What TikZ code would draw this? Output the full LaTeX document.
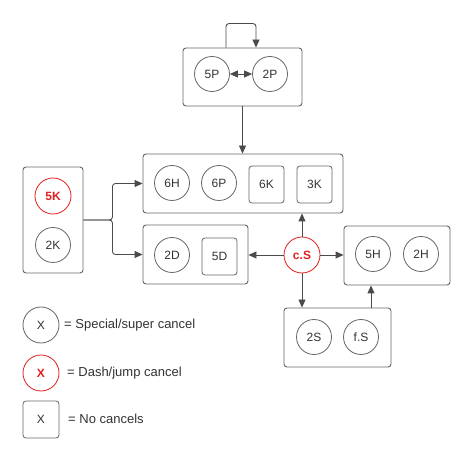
\documentclass[tikz,border=0pt]{standalone}
\usepackage{fontspec}
\setmainfont{Liberation Sans}
\usetikzlibrary{arrows.meta,calc}
\definecolor{ln}{HTML}{4A4A4A}
\definecolor{bx}{HTML}{666666}
\definecolor{tx}{HTML}{333333}
\definecolor{rd}{HTML}{E02020}
\tikzset{
  group/.style={draw=bx,line width=0.9pt,rounded corners=3pt,inner sep=0pt},
  cmove/.style={draw=bx,line width=0.8pt,circle,minimum size=35pt,inner sep=0pt,text=tx,font=\fontsize{12}{14}\selectfont},
  rmove/.style={draw=rd,line width=0.8pt,circle,minimum size=36pt,inner sep=0pt,text=rd,font=\fontsize{12}{14}\selectfont\bfseries},
  smove/.style={draw=bx,line width=0.8pt,rounded corners=3pt,minimum width=35pt,minimum height=37pt,inner sep=0pt,text=tx,font=\fontsize{12}{14}\selectfont},
  legtext/.style={anchor=west,text=tx,font=\fontsize{13}{15}\selectfont,inner sep=0pt},
  conn/.style={draw=ln,line width=0.9pt,-{Triangle[length=8pt,width=7pt]}},
}
\begin{document}
\begin{tikzpicture}[x=1pt,y=-1pt]
\useasboundingbox[fill=white] (0,0) rectangle (474,462);
% groups
\node[group,minimum width=119pt,minimum height=58pt] (top) at (242.5,77) {};
\node[group,minimum width=200pt,minimum height=59pt] (big) at (243,183.5) {};
\node[group,minimum width=60pt,minimum height=106pt] (left) at (53,220) {};
\node[group,minimum width=105pt,minimum height=59pt] (lower) at (195.5,254.5) {};
\node[group,minimum width=106pt,minimum height=59pt] (hbox) at (397,255.5) {};
\node[group,minimum width=107pt,minimum height=59pt] (sbox) at (337.5,337.5) {};
% moves
\node[cmove] (p5) at (212,74) {5P};
\node[cmove] (p2) at (270,74) {2P};
\node[cmove] (h6) at (172,183) {6H};
\node[cmove] (p6) at (219,183) {6P};
\node[smove] (k6) at (266.5,184.5) {6K};
\node[smove] (k3) at (314.5,184.5) {3K};
\node[rmove] (k5) at (53,196) {5K};
\node[cmove] (k2) at (53,245) {2K};
\node[cmove] (d2) at (172,255) {2D};
\node[smove] (d5) at (219.5,256.5) {5D};
\node[rmove] (cs) at (302,255) {c.S};
\node[cmove] (h5) at (373,254) {5H};
\node[cmove] (h2) at (421,254) {2H};
\node[cmove] (s2) at (314,337) {2S};
\node[cmove] (fs) at (361,337) {f.S};
% connectors
\coordinate (loopA) at ($(top.north)+(-16.5,0)$);
\coordinate (loopB) at ($(top.north)+(13.5,0)$);
\coordinate (sup) at ($(sbox.north)+(33.5,0)$);
\draw[conn,rounded corners=3pt] (loopA) -- ++(0,-24) -| (loopB);
\draw[draw=ln,line width=0.9pt,{Triangle[length=8pt,width=7pt]}-{Triangle[length=8pt,width=7pt]}] (p5) -- (p2);
\draw[conn] (top.south) -- (top.south |- big.north);
\draw[conn,rounded corners=3pt] (left.east) -- ++(29,0) |- (big.west);
\draw[conn,rounded corners=3pt] (left.east) -- ++(29,0) |- (lower.west);
\draw[conn] (cs.west) -- (lower.east |- cs.west);
\draw[conn] (cs.north) -- (cs.north |- big.south);
\draw[conn] (cs.east) -- (hbox.west |- cs.east);
\draw[conn] (cs.south) -- (cs.south |- sbox.north);
\draw[conn] (sup) -- (sup |- hbox.south);
% legend
\node[cmove,minimum size=36pt] (lg1) at (41,325) {X};
\node[legtext] (lt1) at (64,325) {= Special/super cancel};
\node[rmove] (lg2) at (41,373) {X};
\node[legtext] (lt2) at (67,373) {= Dash/jump cancel};
\node[smove,minimum width=36pt] (lg3) at (41,419.5) {X};
\node[legtext] (lt3) at (68,419) {= No cancels};
\end{tikzpicture}
\end{document}
